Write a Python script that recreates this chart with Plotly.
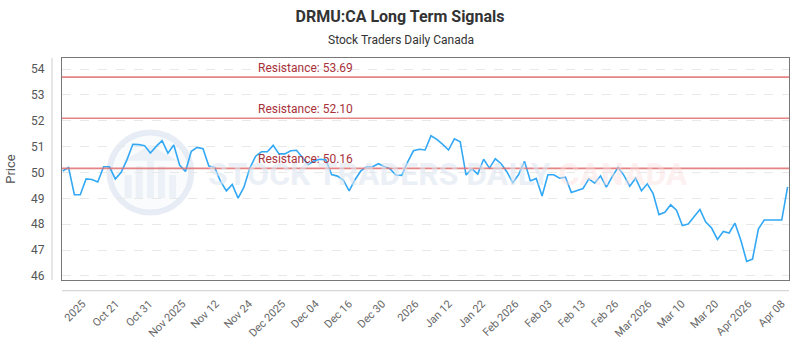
import plotly.graph_objects as go

# ---------------- data ----------------
prices = [
    50.06, 50.19, 49.14, 49.14, 49.75, 49.73, 49.63, 50.22, 50.22, 49.75,
    50.01, 50.50, 51.09, 51.08, 51.04, 50.75, 51.01, 51.23, 50.75, 51.06,
    50.29, 50.04, 50.82, 50.97, 50.92, 50.25, 50.20, 49.66, 49.29, 49.54,
    49.01, 49.43, 50.16, 50.63, 50.80, 50.80, 51.05, 50.72, 50.72, 50.84,
    50.86, 50.60, 50.30, 50.45, 50.51, 50.49, 49.92, 49.86, 49.71, 49.29,
    49.72, 50.06, 50.22, 50.22, 50.34, 50.23, 50.14, 49.90, 49.89, 50.40,
    50.84, 50.90, 50.87, 51.42, 51.28, 51.09, 50.87, 51.30, 51.19, 49.90,
    50.14, 49.94, 50.51, 50.17, 50.53, 50.34, 50.02, 49.60, 49.92, 50.43,
    49.67, 49.77, 49.09, 49.91, 49.91, 49.78, 49.82, 49.23, 49.32, 49.38,
    49.75, 49.59, 49.87, 49.43, 49.84, 50.20, 49.89, 49.47, 49.78, 49.29,
    49.56, 49.18, 48.37, 48.46, 48.75, 48.54, 47.95, 48.01, 48.29, 48.57,
    48.08, 47.85, 47.41, 47.72, 47.66, 48.04, 47.38, 46.56, 46.65, 47.81,
    48.16, 48.16, 48.16, 48.16, 49.44,
]
tick_labels = [
    "2025", "Oct 21", "Oct 31", "Nov 2025", "Nov 12", "Nov 24", "Dec 2025",
    "Dec 04", "Dec 16", "Dec 30", "2026", "Jan 12", "Jan 22", "Feb 2026",
    "Feb 03", "Feb 13", "Feb 26", "Mar 2026", "Mar 10", "Mar 20",
    "Apr 2026", "Apr 08",
]
resistance_levels = [53.69, 52.10, 50.16]
y_ticks = [46, 47, 48, 49, 50, 51, 52, 53, 54]

title = "DRMU:CA Long Term Signals"
subtitle = "Stock Traders Daily Canada"

# ---------------- layout helpers ----------------
FONT = "Roboto, 'Open Sans', sans-serif"
x_idx = list(range(len(prices)))
tick_start, tick_step = 3.4, 5.695
tick_vals = [tick_start + i * tick_step for i in range(len(tick_labels))]

fig = go.Figure()

# watermark: logo ring + pictogram + text
fig.add_shape(type="circle", xref="x", yref="y",
              x0=8.0, x1=22.0, y0=48.45, y1=51.55,
              line=dict(color="rgba(222,230,241,0.7)", width=6),
              fillcolor="rgba(240,244,249,0.4)", layer="below")
fig.add_shape(type="path", xref="x", yref="y", layer="below",
              path="M 10.3 50.45 L 15.0 51.05 L 19.7 50.45 Z",
              line=dict(width=0), fillcolor="rgba(226,233,243,0.55)")
for k, h in enumerate([0.9, 1.25, 1.45, 1.25, 0.9]):
    fig.add_shape(type="rect", xref="x", yref="y",
                  x0=10.6 + k * 1.9, x1=11.8 + k * 1.9,
                  y0=49.0, y1=49.0 + h,
                  line=dict(width=0), fillcolor="rgba(226,233,243,0.55)",
                  layer="below")
fig.add_annotation(xref="paper", yref="y", x=(205 - 60) / 730, y=49.95,
                   xanchor="left", yanchor="middle", showarrow=False,
                   text="<b>STOCK TRADERS DAILY</b> <b><span style='color:rgba(251,222,222,0.75)'>CANADA</span></b>",
                   font=dict(family=FONT, size=32,
                             color="rgba(222,230,241,0.6)"))

# price line
fig.add_trace(go.Scatter(x=x_idx, y=prices, mode="lines",
                         line=dict(color="#33a8f5", width=1.6),
                         hoverinfo="skip", showlegend=False))

# resistance lines
for lvl in resistance_levels:
    fig.add_shape(type="line", xref="paper", yref="y", x0=0, x1=1,
                  y0=lvl, y1=lvl,
                  line=dict(color="rgba(225,110,110,0.85)", width=1.6))
    fig.add_annotation(xref="x", yref="y", x=33.0, y=lvl,
                       xanchor="left", yanchor="bottom", showarrow=False,
                       yshift=0, text=f"Resistance: {lvl:.2f}",
                       font=dict(family=FONT, size=12, color="#a8323a"))

# offset axis lines (outer)
fig.add_shape(type="line", xref="paper", yref="paper",
              x0=-10 / 730, x1=-10 / 730, y0=0, y1=1,
              line=dict(color="#cccccc", width=1))
fig.add_shape(type="line", xref="paper", yref="paper",
              x0=0, x1=1, y0=-11 / 228, y1=-11 / 228,
              line=dict(color="#cccccc", width=1))

fig.update_layout(
    width=800, height=350,
    margin=dict(l=60, r=10, t=58, b=64),
    paper_bgcolor="white", plot_bgcolor="white",
    font=dict(family=FONT, color="#555555"),
    title=dict(text=f"<b>{title}</b>", x=0.5, xanchor="center",
               y=1 - 16 / 350, yanchor="middle",
               font=dict(family=FONT, size=16, color="#333333")),
    annotations=list(fig.layout.annotations) + [
        dict(xref="paper", yref="paper", x=(400 - 60) / 730, y=1 + 18 / 228,
             xanchor="center", yanchor="middle", showarrow=False,
             text=subtitle, font=dict(family=FONT, size=12, color="#333333"))
    ],
    xaxis=dict(range=[-0.12, 124.24], tickmode="array",
               tickvals=tick_vals, ticktext=tick_labels, tickangle=-45,
               ticks="outside", ticklen=12, tickcolor="rgba(0,0,0,0)",
               tickfont=dict(family=FONT, size=11, color="#666666"),
               showgrid=False, zeroline=False,
               showline=True, linecolor="#777777", linewidth=1.2, mirror=True),
    yaxis=dict(range=[45.84, 54.43], tickmode="array", tickvals=y_ticks,
               ticks="outside", ticklen=14, tickcolor="rgba(0,0,0,0)",
               tickfont=dict(family=FONT, size=12, color="#555555"),
               showgrid=True, gridcolor="#e8e8e8", griddash="dash", gridwidth=1,
               zeroline=False,
               showline=True, linecolor="#777777", linewidth=1.2, mirror=True,
               title=dict(text="Price", standoff=12,
                          font=dict(family=FONT, size=13, color="#555555"))),
)

fig.write_html("out.html")
